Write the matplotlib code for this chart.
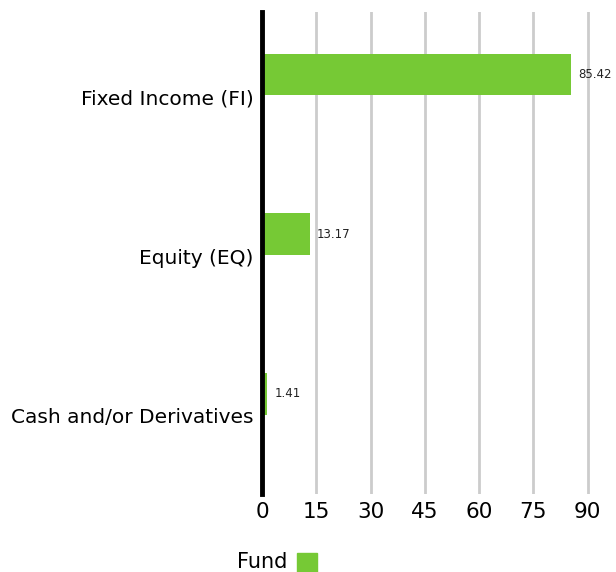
import matplotlib
matplotlib.use("Agg")
import matplotlib.pyplot as plt
from matplotlib.patches import Rectangle

categories = ["Fixed Income (FI)", "Equity (EQ)", "Cash and/or Derivatives"]
values = [85.42, 13.17, 1.41]
xticks = [0, 15, 30, 45, 60, 75, 90]
series_name = "Fund"

GREEN = "#76C935"

fig = plt.figure(figsize=(6.16, 5.72), dpi=100)
ax = fig.add_axes([262 / 616, 1 - 494 / 572, 340 / 616, 482 / 572])

pos = list(range(len(categories)))
bar_pos = [p - 0.138 for p in pos]
ax.barh(bar_pos, values, height=0.26, color=GREEN, zorder=3)

for y, v in zip(bar_pos, values):
    ax.text(v + 2.0, y, f"{v:.2f}", va="center", ha="left", fontsize=8.5, color="#222222")

ax.set_xlim(0, 94)
ax.set_ylim(2.49, -0.53)
ax.set_xticks(xticks)
ax.set_xticklabels([str(t) for t in xticks], fontsize=15.5)
ax.set_yticks(pos)
ax.set_yticklabels(categories, fontsize=14.5)

ax.xaxis.grid(True, color="#cccccc", linewidth=2, zorder=0)
ax.tick_params(axis="both", length=0)
ax.tick_params(axis="x", pad=6)
ax.tick_params(axis="y", pad=6)
for side in ["top", "right", "bottom"]:
    ax.spines[side].set_visible(False)
ax.spines["left"].set_linewidth(3.5)
ax.spines["left"].set_color("black")
ax.spines["left"].set_zorder(4)

fig.text(237 / 616, 1 - 562 / 572, series_name, fontsize=15, va="center", ha="left")
fig.patches.append(Rectangle((297 / 616, 1 - 575 / 572), 20 / 616, 22 / 572,
                             transform=fig.transFigure, color=GREEN, clip_on=False))

fig.savefig("out.png", dpi=100)
